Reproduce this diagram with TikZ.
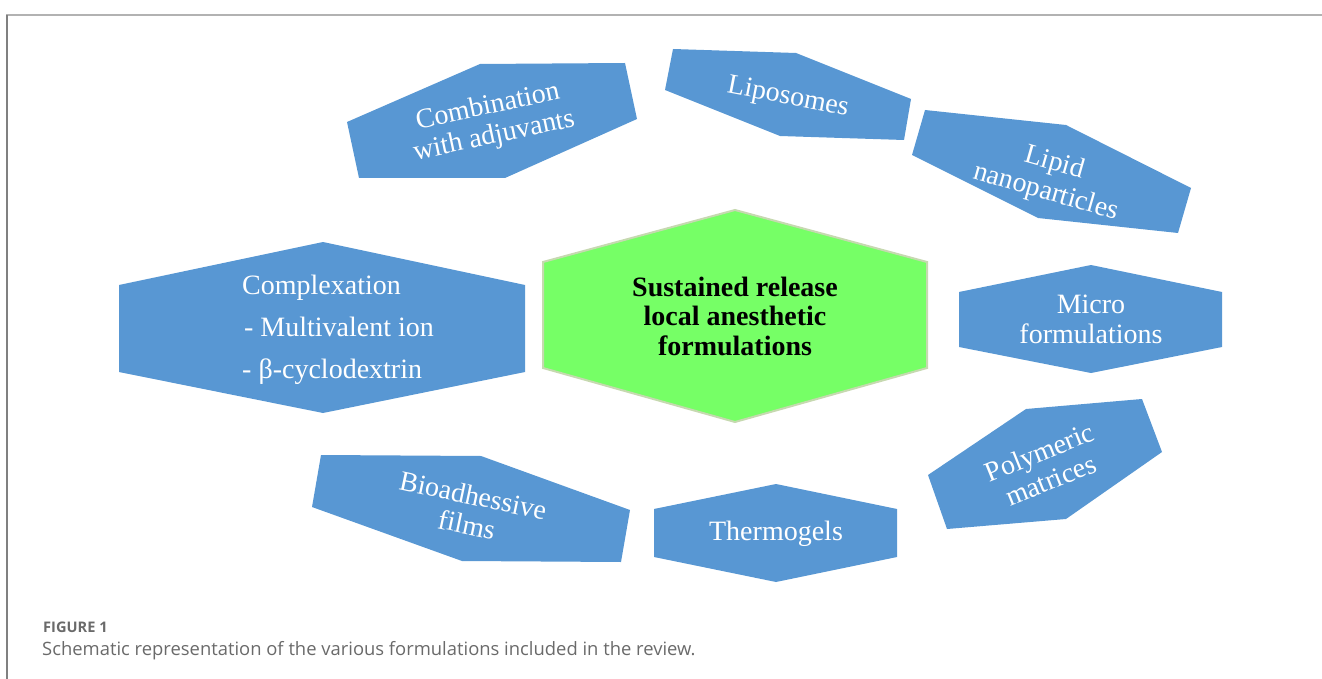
\documentclass[tikz,border=0pt]{standalone}
\usepackage{fontspec}
\setmainfont{Liberation Serif}
\newfontfamily\capfont{Open Sans}
\definecolor{hexblue}{HTML}{5897D3}
\definecolor{hexgreen}{HTML}{76FF66}
\definecolor{hexrim}{HTML}{C6D9B0}
\definecolor{capgray}{HTML}{6A6A6A}
\begin{document}
\begin{tikzpicture}[x=1pt, y=-1pt,
		blueshape/.style={fill=hexblue},
		lbl/.style={text=white, align=center, inner sep=0pt, font=\fontsize{28}{30}\selectfont},
		captxt/.style={anchor=base west, inner sep=0pt, text=capgray}]
	\useasboundingbox (0,0) rectangle (1322,679);
	% frame
	\draw[line width=2pt, color=gray!60] (6,15) -- (1322,15);
	\draw[line width=1.5pt, color=gray] (7,15) -- (7,679);
	% outer hexagons
	\fill[blueshape] (347,122) -- (480,64) -- (625,63) -- (637,119) -- (505,178) -- (359,178) -- cycle;
	\fill[blueshape] (673,49) -- (796,53) -- (911,99) -- (904,140) -- (780,136) -- (665,90) -- cycle;
	\fill[blueshape] (925,110) -- (1066,125) -- (1191,188) -- (1178,233) -- (1038,218) -- (912,155) -- cycle;
	\fill[blueshape] (1091,265) -- (1222,292) -- (1222,347) -- (1091,373) -- (959,347) -- (959,292) -- cycle;
	\fill[blueshape] (1026,409) -- (1142,399) -- (1162,452) -- (1066,519) -- (947,529) -- (928,475) -- cycle;
	\fill[blueshape] (776,484) -- (897,509) -- (897,557) -- (776,582) -- (654,557) -- (654,509) -- cycle;
	\fill[blueshape] (321,455) -- (481,456) -- (630,510) -- (621,562) -- (462,561) -- (312,507) -- cycle;
	\fill[blueshape] (323,242) -- (525,285) -- (525,372) -- (323,413) -- (119,372) -- (119,285) -- cycle;
	% centre hexagon
	\filldraw[fill=hexgreen, draw=hexrim, line width=2pt] (735,210) -- (927,262) -- (927,368) -- (735,422) -- (543,368) -- (543,262) -- cycle;
	% labels
	\node[lbl, rotate=12] (comb) at (491,122) {Combination\\with adjuvants};
	\node[lbl, rotate=-11] (lipo) at (788,98) {Liposomes};
	\node[lbl, rotate=-16] (lipid) at (1050,178) {Lipid\\nanoparticles};
	\node[lbl] (micro) at (1091,319) {Micro\\formulations};
	\node[lbl, rotate=22] (poly) at (1045,466) {Polymeric\\matrices};
	\node[lbl] (thermo) at (776,534) {Thermogels};
	\node[lbl, rotate=-12] (bioad) at (470,510) {Bioadhessive\\films};
	\node[lbl, align=left, anchor=west, font=\fontsize{28}{42}\selectfont] (complex) at (242,330) {Complexation\\\hspace{2pt}- Multivalent ion\\- β-cyclodextrin};
	\node[lbl, text=black, font=\bfseries\fontsize{28}{29.5}\selectfont] (core) at (735,316) {Sustained release\\local anesthetic\\formulations};
	% caption
	\node[captxt, font=\capfont\bfseries\fontsize{14.6}{16}\selectfont] (fig) at (43,632) {FIGURE 1};
	\node[captxt, font=\capfont\fontsize{18.4}{22}\selectfont] (cap) at (42,655) {Schematic representation of the various formulations included in the review.};
\end{tikzpicture}
\end{document}
